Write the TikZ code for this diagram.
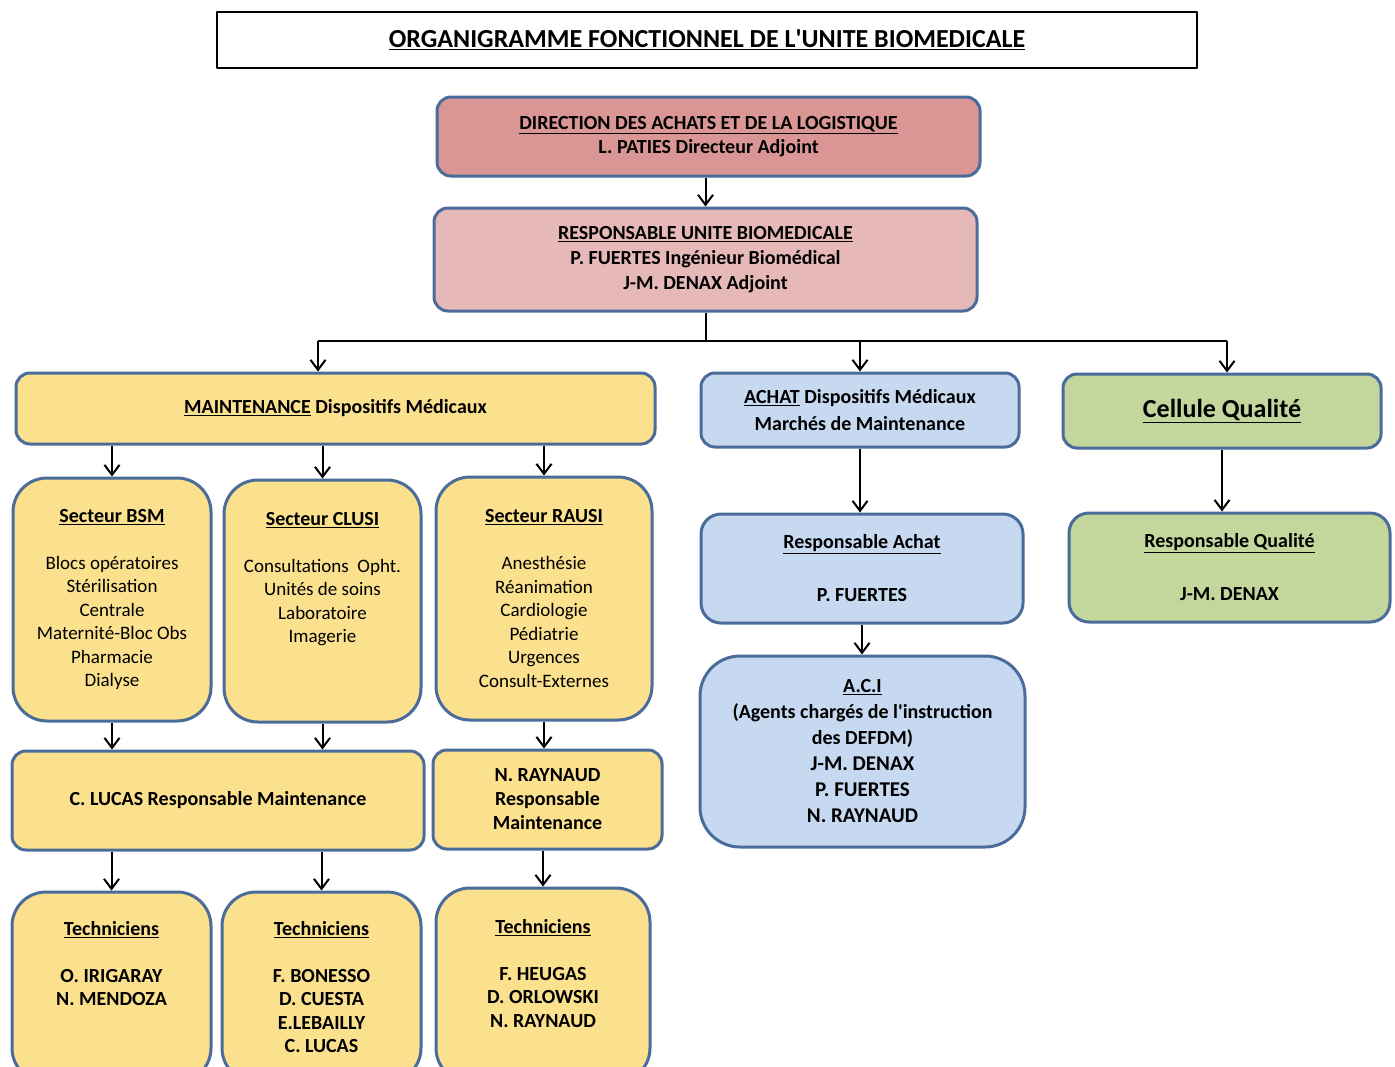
\documentclass[tikz,border=0pt]{standalone}
\usepackage{fontspec}
\setmainfont{Carlito}
\usetikzlibrary{arrows.meta}

\definecolor{rim}{HTML}{4A6C9B}
\definecolor{dirfill}{HTML}{D99694}
\definecolor{respfill}{HTML}{E6B9B8}
\definecolor{mntfill}{HTML}{FBE08D}
\definecolor{achfill}{HTML}{C6D9F1}
\definecolor{qlfill}{HTML}{C3D69B}

\tikzset{
  box/.style={draw=rim, line width=3pt, rounded corners=14pt, align=center,
    inner sep=0pt, font=\bfseries\fontsize{20}{24}\selectfont},
  sector/.style={box, rounded corners=34pt, fill=mntfill,
    font=\fontsize{19}{23.5}\selectfont},
  conn/.style={line width=2pt, -{Straight Barb[length=10pt,width=15pt]}},
  link/.style={line width=2pt},
}

\begin{document}
\begin{tikzpicture}[x=1pt, y=-1pt, line join=round]
  \useasboundingbox (0,0) rectangle (1395,1066);
  \fill[white] (0,0) rectangle (1395,1066);
  \clip (0,0) rectangle (1395,1066);

  % Title
  \node[draw, line width=2pt, minimum width=980pt, minimum height=56pt,
    font=\bfseries\fontsize{26}{28}\selectfont] (title) at (707,40)
    {\underline{ORGANIGRAMME FONCTIONNEL DE L\textquotesingle UNITE BIOMEDICALE}};

  % Direction and unit head
  \node[box, fill=dirfill, minimum width=543pt, minimum height=79pt] (dir) at (708.5,136.5)
    {\underline{DIRECTION DES ACHATS ET DE LA LOGISTIQUE}\\ L. PATIES Directeur Adjoint};
  \node[box, fill=respfill, minimum width=543pt, minimum height=103pt,
    font=\bfseries\fontsize{20}{25}\selectfont] (resp) at (705.5,259.5)
    {\underline{RESPONSABLE UNITE BIOMEDICALE}\\ P. FUERTES Ingénieur Biomédical\\ J-M. DENAX Adjoint};

  % Three branches
  \node[box, fill=mntfill, minimum width=639pt, minimum height=71pt] (maint) at (335.5,408.5)
    {\underline{MAINTENANCE} Dispositifs Médicaux};
  \node[box, fill=achfill, minimum width=318pt, minimum height=74pt,
    font=\bfseries\fontsize{20}{27}\selectfont] (achat) at (860,410)
    {\underline{ACHAT} Dispositifs Médicaux\\ Marchés de Maintenance};
  \node[box, fill=qlfill, minimum width=318pt, minimum height=74pt,
    font=\bfseries\fontsize{26}{28}\selectfont] (qual) at (1222,411)
    {\underline{Cellule Qualité}};

  % Sectors
  \node[sector, minimum width=198pt, minimum height=243pt] (bsm) at (112,599.5)
    {{\fontsize{20}{23.5}\selectfont\bfseries\underline{Secteur BSM}}\\[23.5pt] Blocs opératoires\\ Stérilisation\\ Centrale\\
     Maternité-Bloc Obs\\ Pharmacie\\ Dialyse};
  \node[sector, minimum width=197pt, minimum height=242pt] (clusi) at (322.5,601)
    {{\fontsize{20}{23.5}\selectfont\bfseries\underline{Secteur CLUSI}}\\[23.5pt] Consultations\ \ Opht.\\ Unités de soins\\
     Laboratoire\\ Imagerie\\ ~\\ ~};
  \node[sector, minimum width=216pt, minimum height=243pt] (rausi) at (544,598.5)
    {{\fontsize{20}{23.5}\selectfont\bfseries\underline{Secteur RAUSI}}\\[23.5pt] Anesthésie\\ Réanimation\\ Cardiologie\\
     Pédiatrie\\ Urgences\\ Consult-Externes};

  % Maintenance leads
  \node[box, fill=mntfill, minimum width=412pt, minimum height=99pt] (lucas) at (218,800.5)
    {C. LUCAS Responsable Maintenance};
  \node[box, fill=mntfill, minimum width=229pt, minimum height=99pt] (rayn) at (547.5,799.5)
    {N. RAYNAUD\\ Responsable\\ Maintenance};

  % Technicians
  \node[sector, minimum width=199pt, minimum height=190pt,
    font=\bfseries\fontsize{20}{23.5}\selectfont] (techa) at (111.5,987)
    {\underline{Techniciens}\\[23.5pt] O. IRIGARAY\\ N. MENDOZA\\ ~\\ ~};
  \node[sector, minimum width=199pt, minimum height=190pt,
    font=\bfseries\fontsize{20}{23.5}\selectfont] (techb) at (321.5,987)
    {\underline{Techniciens}\\[23.5pt] F. BONESSO\\ D. CUESTA\\ E.LEBAILLY\\ C. LUCAS};
  \node[sector, minimum width=214pt, minimum height=194pt,
    font=\bfseries\fontsize{20}{23.5}\selectfont] (techc) at (543,985)
    {\underline{Techniciens}\\[23.5pt] F. HEUGAS\\ D. ORLOWSKI\\ N. RAYNAUD\\ ~};

  % Purchasing side
  \node[box, fill=achfill, rounded corners=20pt, minimum width=322pt, minimum height=109pt,
    font=\bfseries\fontsize{20}{26.5}\selectfont] (rachat) at (862,568.5)
    {\underline{Responsable Achat}\\ ~\\ P. FUERTES};
  \node[box, fill=achfill, rounded corners=40pt, minimum width=325pt, minimum height=191pt,
    font=\bfseries\fontsize{20}{26}\selectfont] (aci) at (862.5,751.5)
    {\underline{A.C.I}\\ (Agents chargés de l\textquotesingle instruction\\ des DEFDM)\\
     {\fontsize{21}{26}\selectfont J-M. DENAX}\\ {\fontsize{21}{26}\selectfont P. FUERTES}\\
     {\fontsize{21}{26}\selectfont N. RAYNAUD}};

  % Quality side
  \node[box, fill=qlfill, rounded corners=20pt, minimum width=321pt, minimum height=109pt,
    font=\bfseries\fontsize{20}{26.5}\selectfont] (rqual) at (1229.5,567.5)
    {\underline{Responsable Qualité}\\ ~\\ J-M. DENAX};

  % Connectors
  \coordinate (jl) at (318,341);
  \coordinate (jr) at (1227,341);
  \draw[conn] (resp.north |- dir.south) -- (resp.north);
  \draw[link] (resp.south) -- (resp.south |- jl);
  \draw[link] (jl) -- (jr);
  \draw[conn] (jl) -- (jl |- maint.north);
  \draw[conn] (achat.north |- jl) -- (achat.north);
  \draw[conn] (jr) -- (jr |- qual.north);

  \draw[conn] (bsm.north |- maint.south) -- (bsm.north);
  \draw[conn] (clusi.north |- maint.south) -- (clusi.north);
  \draw[conn] (rausi.north |- maint.south) -- (rausi.north);

  \draw[conn] (bsm.south) -- (bsm.south |- lucas.north);
  \draw[conn] (clusi.south) -- (clusi.south |- lucas.north);
  \draw[conn] (rausi.south) -- (rausi.south |- rayn.north);

  \draw[conn] (techa.north |- lucas.south) -- (techa.north);
  \draw[conn] (techb.north |- lucas.south) -- (techb.north);
  \draw[conn] (techc.north |- rayn.south) -- (techc.north);

  \draw[conn] (achat.south) -- (achat.south |- rachat.north);
  \draw[conn] (rachat.south) -- (rachat.south |- aci.north);
  \draw[conn] (qual.south) -- (qual.south |- rqual.north);
\end{tikzpicture}
\end{document}
